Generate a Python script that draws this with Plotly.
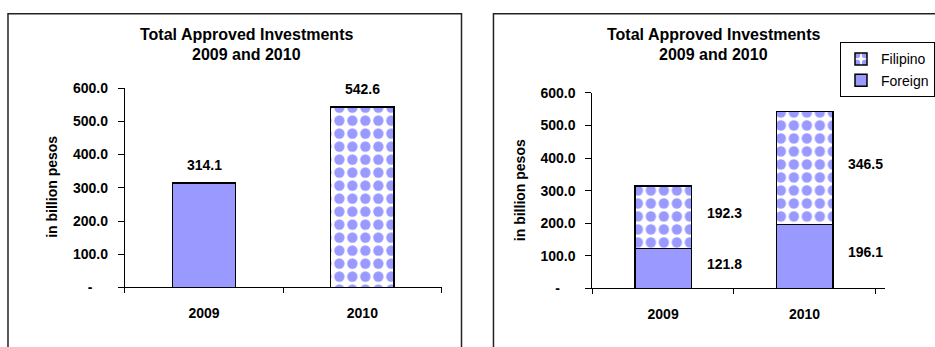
import plotly.graph_objects as go

# Approved investments, billion pesos
years = ["2009", "2010"]
foreign = [121.8, 196.1]
filipino = [192.3, 346.5]
totals = [314.1, 542.6]

y_ticks = [0, 100, 200, 300, 400, 500, 600]
y_ticktext = ["-\u00a0\u00a0\u00a0\u00a0", "100.0", "200.0", "300.0", "400.0", "500.0", "600.0"]

FONT = "Liberation Sans, Arial, sans-serif"
BLUE = "#9999FF"
W, H = 935, 347

def px(x):
    return x / W

def py(y):
    return 1 - y / H

dots = dict(shape=".", size=13, solidity=0.5, fgcolor=BLUE, bgcolor="white",
            fillmode="replace")
outline = dict(color="black", width=1.5)

fig = go.Figure()

# Left chart: totals per year (2009 solid, 2010 dotted)
fig.add_trace(go.Bar(
    x=years[:1], y=totals[:1], xaxis="x", yaxis="y", showlegend=False,
    marker=dict(color=BLUE, line=outline), hoverinfo="skip",
))
fig.add_trace(go.Bar(
    x=years[1:], y=totals[1:], xaxis="x", yaxis="y", showlegend=False,
    marker=dict(color="white", line=outline, pattern=dots), hoverinfo="skip",
))

# Right chart: stacked foreign / Filipino
fig.add_trace(go.Bar(
    x=years, y=foreign, name="Foreign", xaxis="x2", yaxis="y2",
    marker=dict(color=BLUE, line=outline), hoverinfo="skip",
))
fig.add_trace(go.Bar(
    x=years, y=filipino, name="Filipino", xaxis="x2", yaxis="y2",
    marker=dict(color="white", line=outline, pattern=dots), hoverinfo="skip",
))

tickfont = dict(family=FONT, size=14, color="black", weight="bold")

def yaxis(domain, anchor):
    return dict(domain=domain, anchor=anchor, range=[0, 600], tickvals=y_ticks,
                ticktext=y_ticktext, ticks="outside", ticklen=6, tickwidth=1,
                tickcolor="black", showline=True, linecolor="black", linewidth=1,
                showgrid=False, zeroline=False, tickfont=tickfont,
                ticklabelstandoff=7)

def xaxis(domain, anchor):
    return dict(domain=domain, anchor=anchor, type="category",
                ticks="outside", tickson="boundaries",
                ticklen=5, tickwidth=1, tickcolor="black", showline=True,
                linecolor="black", linewidth=1, showgrid=False, tickfont=tickfont,
                ticklabelstandoff=13)

annotations = []
label_font = dict(family=FONT, size=14, color="black", weight="bold")
title_font = dict(family=FONT, size=16, color="black", weight="bold")

for cx in (247, 714):
    annotations.append(dict(xref="paper", yref="paper", x=px(cx), y=py(28),
                            text="Total Approved Investments", showarrow=False,
                            font=title_font, xanchor="center", yanchor="middle"))
    annotations.append(dict(xref="paper", yref="paper", x=px(cx), y=py(49),
                            text="2009 and 2010", showarrow=False,
                            font=title_font, xanchor="center", yanchor="middle"))

for ax, ay in ((52, 187.5), (520, 190.5)):
    annotations.append(dict(xref="paper", yref="paper", x=px(ax), y=py(ay),
                            text="in billion pesos", textangle=-90, showarrow=False,
                            font=label_font, xanchor="center", yanchor="middle"))

# Value labels on the totals chart
for i, v in enumerate(totals):
    annotations.append(dict(xref="x", yref="y", x=i, y=v, text=f"{v:.1f}",
                            showarrow=False, font=label_font, yanchor="bottom",
                            yshift=8))

# Value labels beside the stacked segments
for i, (f, p) in enumerate(zip(foreign, filipino)):
    annotations.append(dict(xref="x2", yref="y2", x=i, y=f / 2, text=f"{f:.1f}",
                            showarrow=False, font=label_font, xshift=61, yshift=4.5))
    annotations.append(dict(xref="x2", yref="y2", x=i, y=f + p / 2, text=f"{p:.1f}",
                            showarrow=False, font=label_font, xshift=61, yshift=4.5))

shapes = [
    dict(type="rect", xref="paper", yref="paper", x0=px(8), x1=px(462),
         y0=-0.1, y1=py(6), line=dict(color="#222", width=1.5)),
    dict(type="rect", xref="paper", yref="paper", x0=px(494), x1=1.1,
         y0=-0.1, y1=py(6), line=dict(color="#222", width=1.5)),
]

fig.update_layout(
    width=W, height=H, margin=dict(l=0, r=0, t=0, b=0),
    paper_bgcolor="white", plot_bgcolor="white",
    barmode="stack", bargap=0.6,
    xaxis=xaxis([px(125), px(442)], "y"),
    yaxis=yaxis([py(293), py(84)], "x"),
    xaxis2=xaxis([px(593), px(886)], "y2"),
    yaxis2=yaxis([py(294), py(89)], "x2"),
    legend=dict(x=px(841), y=py(36), xanchor="left", yanchor="top",
                traceorder="reversed",
                bordercolor="black", borderwidth=1, bgcolor="white",
                font=dict(family=FONT, size=14, color="black")),
    annotations=annotations, shapes=shapes,
    font=dict(family=FONT),
)

fig.write_html("out.html")
